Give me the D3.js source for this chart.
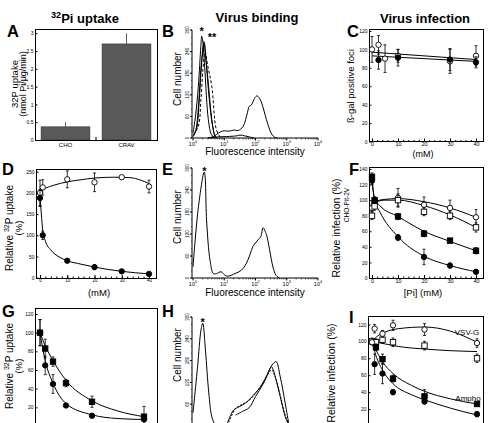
<!doctype html>
<html>
<head>
<script src="https://d3js.org/d3.v7.min.js"></script>
<style>
  body { margin: 0; background: #fff; }
  svg { font-family: "Liberation Sans", Arial, Helvetica, sans-serif; }
  .frame { fill: none; stroke: #000; stroke-width: 1; shape-rendering: crispEdges; }
  .fit, .hist { fill: none; stroke: #000; stroke-width: 1; }
</style>
</head>
<body>
<script>
// ---- data ----
// A: 32Pi uptake (nmol Pi/ug/min)
var aCats = ["CHO", "CRAV"];
var aVals = [0.37, 2.7];
var aErr = [0.13, 0.3];
var aTicks = [0, 0.5, 1, 1.5, 2, 2.5, 3];

// B, E, H: flow histograms, [fluorescence, cell number]
var bStar = [[1,14],[1.2,60],[1.48,143],[1.78,254],[1.9,283],[2.1,262],[2.4,189],[3.1,51],[3.9,9],[5,0]];
var bStar2 = [[1,5],[1.23,23],[1.5,90],[1.78,189],[2.24,268],[2.5,232],[3.16,143],[4,51],[5,5],[5.6,0]];
var bStar3 = [[1,3],[1.3,25],[1.6,110],[1.95,220],[2.3,262],[2.7,200],[3.3,110],[4.2,35],[5.3,3],[6,0]];
var bDashed = [[1,8],[1.48,32],[1.8,110],[2.2,215],[2.45,240],[2.9,205],[4,143],[5.6,23],[7.4,3],[8,0]];
var bPositive = [[3,0],[4.5,4],[5.5,9],[7.9,18],[10,20],[14,19],[20,22],[28,21],[40,32],[55,70],[63,88],[74,92],[93,110],[112,117],[130,112],[158,97],[224,51],[316,14],[398,3],[500,0]];
var bLow = [[3,0],[6,3],[12,4],[25,6],[32,8],[45,6],[63,3],[90,0]];
var eCurve = [[1,30],[1.5,196],[2.3,289],[2.75,150],[3.5,49],[4.5,12],[5.7,12],[7.9,17],[10.7,7],[13.5,5],[22,12],[35,21],[51,40],[66,63],[83,86],[120,104],[148,113],[174,137],[224,118],[282,77],[363,30],[457,7],[589,0]];
var hNeg = [[1,36],[1.4,163],[1.8,264],[2.05,283],[2.5,209],[3.2,91],[4,25],[4.8,8],[5.4,0]];
var hSolid = [[12.6,8],[20,44],[30,53],[48,63],[78,81],[145,108],[234,140],[324,163],[427,136],[617,81],[891,26],[1148,3]];
var hDashed = [[14,10],[23,48],[38,60],[62,70],[100,90],[162,115],[263,145],[324,155],[407,140],[617,85],[891,30],[1200,3]];
var hGrey = [[23,30],[38,40],[62,50],[100,81],[182,118],[339,168],[457,177],[617,136],[891,63],[1148,8]];
var cellTicks = [0, 60, 120, 180, 240, 300];
var logTicks = [1, 10, 100, 1000, 10000];

// C: beta-gal positive foci, [mM, value, error]
var cOpen = [[0,100,14],[2.5,105,10],[5,90,15],[10,93,7],[30,87,13],[40,93,11]];
var cFilled = [[2.5,88.5,10],[10,91,9],[30,89,12],[40,86,6]];
var cOpenFit = [[0,97],[40,89]];
var cFilledFit = [[0,93],[40,87]];

// D: relative 32P uptake (%)
var dOpen = [[0,200,30],[1,213,18],[10,232,20],[20,225,22],[30,237,0],[40,215,15]];
var dFilled = [[0,188,20],[1,100,10],[10,40,4],[20,25,6],[30,15,3],[40,9,3]];
var dOpenFit = [[0,203],[2,211],[5,218],[10,226],[15,231],[20,235],[27,237],[33,236],[37,230],[40,222]];
var dFilledFit = [[0,188],[0.5,150],[1,112],[2,86],[4,65],[7,49],[10,40],[15,32],[20,25],[30,15],[40,9]];

// F: relative infection (%) CHO-Pit-2V
var fOpenC = [[0,90,5],[1,96,5],[10,103,12],[20,94,10],[30,90,10],[40,78,10]];
var fOpenS = [[0,80,5],[1,92,5],[10,100,8],[20,85,5],[30,80,5],[40,65,6]];
var fFilledS = [[0,130,5],[1,100,4],[10,79,4],[20,57,4],[30,48,3],[40,35,4]];
var fFilledC = [[0,125,5],[1,100,4],[10,52,4],[20,27,10],[30,16,3],[40,8,2]];
var fOpenCFit = [[0,93],[2,99],[5,101],[10,102],[20,98],[30,90],[40,78]];
var fOpenSFit = [[0,91],[2,98],[5,100],[10,100],[20,93],[30,81],[40,65]];
var fFilledSFit = [[0,130],[0.5,112],[1,102],[3,93],[10,79],[20,60],[30,47],[40,35]];
var fFilledCFit = [[0,125],[0.5,110],[1,100],[3,85],[10,53],[20,28],[30,16],[40,8]];

// G: relative 32P uptake (%)
var gSq = [[0,100,14],[2,83,10],[5,69,5],[10,46,4],[20,26,6],[40,10,11]];
var gCirc = [[0,100,14],[2,65,10],[5,45,10],[10,22,2],[20,11,2],[40,7,2]];
var gSqFit = [[0,100],[2,86],[5,70],[10,49],[20,27],[30,16],[40,10]];
var gCircFit = [[0,100],[2,70],[5,46],[10,24],[20,12],[30,8],[40,7]];

// I: relative infection (%), VSV-G and Ampho
var iOpenC = [[0,99,0],[1,115,5],[4,109,4],[8,119,6],[20,114,7],[40,98,5]];
var iOpenS = [[0,100,4],[1.5,99,4],[4,102,4],[8,99,5],[20,95,5],[40,80,5]];
var iFilledS = [[1.5,93,4],[4,79,6],[8,56,4],[20,35,8],[40,26,2]];
var iFilledC = [[1,73,12],[4,62,12],[8,40,3],[20,29,3],[40,14,3]];
var iOpenCFit = [[0,100],[2,106],[5,111],[10,115],[20,117],[30,112],[40,99]];
var iOpenSFit = [[0,100],[5,97],[10,94],[20,91],[30,89],[40,88]];
var iFilledSFit = [[0,100],[1.5,90],[4,76],[8,62],[15,48],[20,41],[30,32],[40,26]];
var iFilledCFit = [[0,100],[1,88],[4,66],[8,50],[15,37],[20,31],[30,21],[40,13]];

var mmTicks = [0, 10, 20, 30, 40];

// ---- drawing ----
var H = 423;
var svg = d3.select("body").append("svg")
    .attr("width", 488)
    .attr("height", H);

function text(x, y, s, size, opt) {
  opt = opt || {};
  var t = svg.append("text")
      .attr("x", x).attr("y", y)
      .attr("font-size", size)
      .attr("text-anchor", opt.anchor || "middle")
      .attr("font-weight", opt.bold ? "bold" : null)
      .text(s);
  if (opt.rot) t.attr("transform", "rotate(-90," + x + "," + y + ")");
  return t;
}

function supText(x, y, sup, rest, size, opt) {
  var t = text(x, y, "", size, opt);
  if (opt.pre) t.append("tspan").text(opt.pre);
  t.append("tspan").attr("font-size", size * 0.7).attr("dy", -size * 0.38).text(sup);
  t.append("tspan").attr("dy", size * 0.38).text(rest);
  return t;
}

function frame(x0, y0, x1, y1) {
  svg.append("rect").attr("class", "frame")
      .attr("x", x0).attr("y", y0)
      .attr("width", x1 - x0).attr("height", y1 - y0);
}

// ticks point into the frame, labels sit right against it
function leftAxis(y, ticks, x0, fmt, size) {
  var g = svg.append("g").attr("transform", "translate(" + x0 + ",0)")
      .call(d3.axisLeft(y).tickValues(ticks).tickSize(-2.5).tickPadding(1.5).tickFormat(fmt || d3.format("")));
  g.select(".domain").remove();
  g.selectAll("text").attr("font-size", size || 5).attr("font-family", null);
  return g;
}

function bottomAxis(x, ticks, y0, size, minor) {
  if (minor) {
    svg.append("g").attr("transform", "translate(0," + y0 + ")")
        .call(d3.axisBottom(x).tickValues(minor).tickSize(-1.5).tickFormat(""))
        .select(".domain").remove();
  }
  var g = svg.append("g").attr("transform", "translate(0," + y0 + ")")
      .call(d3.axisBottom(x).tickValues(ticks).tickSize(-3).tickPadding(1));
  g.select(".domain").remove();
  g.selectAll("text").attr("font-size", size || 5.5).attr("font-family", null);
  return g;
}

var fitLine = function(x, y) {
  return d3.line().x(function(d) { return x(d[0]); }).y(function(d) { return y(d[1]); })
      .curve(d3.curveMonotoneX);
};

function fit(x, y, pts) {
  svg.append("path").attr("class", "fit").attr("d", fitLine(x, y)(pts));
}

function marks(x, y, data, kind) {
  var g = svg.append("g");
  data.forEach(function(d) {
    if (!d[2]) return;
    var cx = x(d[0]);
    g.append("line").attr("x1", cx).attr("x2", cx)
        .attr("y1", y(d[1] - d[2])).attr("y2", y(d[1] + d[2])).attr("stroke", "#000").attr("stroke-width", 0.8);
    [d[1] - d[2], d[1] + d[2]].forEach(function(v) {
      g.append("line").attr("x1", cx - 1.5).attr("x2", cx + 1.5)
          .attr("y1", y(v)).attr("y2", y(v)).attr("stroke", "#000").attr("stroke-width", 0.8);
    });
  });
  data.forEach(function(d) {
    var cx = x(d[0]), cy = y(d[1]);
    var fill = kind[0] === "f" ? "#000" : "#fff";
    if (kind[1] === "c") {
      g.append("circle").attr("cx", cx).attr("cy", cy).attr("r", 2.7)
          .attr("fill", fill).attr("stroke", "#000").attr("stroke-width", 0.9);
    } else {
      g.append("rect").attr("x", cx - 2.7).attr("y", cy - 2.7).attr("width", 5.4).attr("height", 5.4)
          .attr("fill", fill).attr("stroke", "#000").attr("stroke-width", 0.9);
    }
  });
}

// ---- titles and panel letters ----
supText(85, 23, "32", "Pi uptake", 13, {bold: true});
text(257, 22, "Virus binding", 13, {bold: true});
text(425, 23, "Virus infection", 13, {bold: true});
[["A", 7, 37], ["B", 162, 37], ["C", 347, 37], ["D", 2, 175], ["E", 162, 175],
 ["F", 349, 175], ["G", 2, 317], ["H", 162, 317], ["I", 349, 323]].forEach(function(l) {
  text(l[1], l[2], l[0], 16.5, {bold: true, anchor: "start"});
});

// ---- A: bars ----
var ax = d3.scaleBand().domain(aCats).range([35, 157]).paddingInner(0.2).paddingOuter(0.1);
var ay = d3.scaleLinear().domain([0, 3.12]).range([140, 29]);
svg.selectAll(".bar").data(aVals).enter().append("rect")
    .attr("x", function(d, i) { return ax(aCats[i]); })
    .attr("y", function(d) { return ay(d); })
    .attr("width", ax.bandwidth())
    .attr("height", function(d) { return ay(0) - ay(d); })
    .attr("fill", "#595959").attr("stroke", "#333").attr("stroke-width", 0.6);
aVals.forEach(function(v, i) {
  var cx = ax(aCats[i]) + ax.bandwidth() / 2;
  svg.append("line").attr("x1", cx).attr("x2", cx).attr("y1", ay(v)).attr("y2", ay(v + aErr[i]))
      .attr("stroke", "#333").attr("stroke-width", 0.8);
});
frame(35, 29, 157, 140);
leftAxis(ay, aTicks, 35, function(d) { return d; }, 5);
aCats.forEach(function(c) { text(ax(c) + ax.bandwidth() / 2, 147, c, 6); });
svg.append("line").attr("x1", 96).attr("x2", 96).attr("y1", 140).attr("y2", 137).attr("stroke", "#000");
text(18, 84, "32P uptake", 9.5, {rot: true});
text(26, 84, "(nmol Pi/\u00b5g/min)", 9, {rot: true});

// ---- histograms ----
function histPanel(top, bottom, curves, labelY, cellY) {
  var x = d3.scaleLog().domain([1, 10000]).range([193, 318]);
  var y = d3.scaleLinear().domain([0, 300]).range([bottom, top]);
  var line = d3.line().x(function(d) { return x(d[0]); }).y(function(d) { return y(d[1]); })
      .curve(d3.curveCatmullRom);
  curves.forEach(function(c) {
    svg.append("path").attr("class", "hist").attr("d", line(c.data))
        .attr("stroke", c.color || "#000")
        .attr("stroke-dasharray", c.dash || null)
        .attr("stroke-width", c.w || 1);
  });
  // axes
  svg.append("line").attr("x1", 192).attr("x2", 192).attr("y1", y(300)).attr("y2", bottom).attr("stroke", "#000");
  svg.append("line").attr("x1", 192).attr("x2", 318).attr("y1", bottom).attr("y2", bottom).attr("stroke", "#000");
  cellTicks.forEach(function(t) {
    svg.append("line").attr("x1", 190).attr("x2", 192).attr("y1", y(t)).attr("y2", y(t)).attr("stroke", "#000");
    if (y(t) + 4 < H) text(189, y(t), t, 4.5, {rot: true});
  });
  d3.range(0, 301, 20).forEach(function(t) {
    svg.append("line").attr("x1", 191).attr("x2", 192).attr("y1", y(t)).attr("y2", y(t)).attr("stroke", "#000").attr("stroke-width", 0.6);
  });
  var minor = [];
  [1, 10, 100, 1000].forEach(function(d) { for (var k = 2; k < 10; k++) minor.push(d * k); });
  minor.forEach(function(m) {
    svg.append("line").attr("x1", x(m)).attr("x2", x(m)).attr("y1", bottom).attr("y2", bottom + 1.5).attr("stroke", "#000").attr("stroke-width", 0.6);
  });
  logTicks.forEach(function(t, i) {
    svg.append("line").attr("x1", x(t)).attr("x2", x(t)).attr("y1", bottom).attr("y2", bottom + 2.5).attr("stroke", "#000");
    if (bottom + 8 < H) supText(x(t), bottom + 7.5, i, "", 5.5, {pre: "10"});
  });
  text(181, cellY, "Cell number", 10, {rot: true});
  if (labelY) text(255, labelY, "Fluorescence intensity", 10);
  return {x: x, y: y};
}

var hb = histPanel(30, 138, [
  {data: bLow}, {data: bPositive}, {data: bDashed, dash: "3,2"},
  {data: bStar3, color: "#555"}, {data: bStar2}, {data: bStar}
], 155, 79);
text(hb.x(1.9), 35, "*", 11, {bold: true});
text(hb.x(2.6) + 6, 41, "**", 11, {bold: true});

var he = histPanel(168, 278, [{data: eCurve}], 296, 217);
text(he.x(2.3), 175, "*", 11, {bold: true});

var hh = histPanel(317, 426, [
  {data: hGrey, color: "#888"}, {data: hDashed, dash: "2,1.5"}, {data: hSolid}, {data: hNeg}
], null, 355);
text(hh.x(2.05), 326, "*", 11, {bold: true});

// ---- C ----
var cx = d3.scaleLinear().domain([0, 40]).range([372, 476]);
var cy = d3.scaleLinear().domain([0, 120]).range([141.5, 31]);
frame(369, 29, 483, 141.5);
leftAxis(cy, d3.range(0, 121, 20), 369, null, 5);
bottomAxis(cx, mmTicks, 141.5, 5.5, d3.range(0, 41, 2));
fit(cx, cy, cOpenFit);
fit(cx, cy, cFilledFit);
marks(cx, cy, cOpen, "oc");
marks(cx, cy, cFilled, "fc");
text(354, 86, "\u00df-gal positive foci", 9.5, {rot: true});
text(423, 157, "(mM)", 9);

// ---- D ----
var dx = d3.scaleLinear().domain([0, 40]).range([40, 149]);
var dy = d3.scaleLinear().domain([0, 250]).range([277.7, 171.7]);
frame(36, 169, 156, 278);
leftAxis(dy, d3.range(0, 251, 50), 36, null, 5);
bottomAxis(dx, mmTicks, 278, 4.5, d3.range(0, 41, 2));
fit(dx, dy, dOpenFit);
fit(dx, dy, dFilledFit);
marks(dx, dy, dOpen, "oc");
marks(dx, dy, dFilled, "fc");
supText(13, 228, "32", "P uptake", 10, {rot: true, pre: "Relative "});
text(22, 228, "(%)", 9.5, {rot: true});
text(99, 296, "(mM)", 9.5);

// ---- F ----
var fx = d3.scaleLinear().domain([0, 40]).range([372, 476]);
var fy = d3.scaleLinear().domain([0, 140]).range([278, 169]);
frame(369, 167, 483, 278);
leftAxis(fy, d3.range(0, 141, 20), 369, null, 5);
bottomAxis(fx, mmTicks, 278, 5.5, d3.range(0, 41, 2));
[fOpenCFit, fOpenSFit, fFilledSFit, fFilledCFit].forEach(function(p) { fit(fx, fy, p); });
marks(fx, fy, fOpenC, "oc");
marks(fx, fy, fOpenS, "os");
marks(fx, fy, fFilledS, "fs");
marks(fx, fy, fFilledC, "fc");
text(340, 228, "Relative infection (%)", 10.5, {rot: true});
text(349, 205, "CHO-Pit-2V", 6.5, {rot: true});
text(423, 296, "[Pi] (mM)", 9.5);

// ---- G ----
var gx = d3.scaleLinear().domain([0, 40]).range([40, 144]);
var gy = d3.scaleLinear().domain([0, 120]).range([426, 314]);
frame(35, 308, 157, 430);
leftAxis(gy, d3.range(20, 121, 20), 35, null, 5);
fit(gx, gy, gSqFit);
fit(gx, gy, gCircFit);
marks(gx, gy, gSq, "fs");
marks(gx, gy, gCirc, "fc");
supText(13, 366, "32", "P uptake", 10, {rot: true, pre: "Relative "});
text(22, 366, "(%)", 9.5, {rot: true});

// ---- I ----
var ix = d3.scaleLinear().domain([0, 40]).range([372, 477]);
var iy = d3.scaleLinear().domain([0, 130]).range([426, 316]);
frame(368, 316, 483, 430);
leftAxis(iy, d3.range(20, 121, 20), 368, null, 5);
[iOpenCFit, iOpenSFit, iFilledSFit, iFilledCFit].forEach(function(p) { fit(ix, iy, p); });
marks(ix, iy, iOpenS, "os");
marks(ix, iy, iOpenC, "oc");
marks(ix, iy, iFilledS, "fs");
marks(ix, iy, iFilledC, "fc");
text(467, 335, "VSV-G", 8);
text(468, 401, "Ampho", 8);
text(335, 373, "Relative infection (%)", 10.5, {rot: true});
</script>
</body>
</html>
